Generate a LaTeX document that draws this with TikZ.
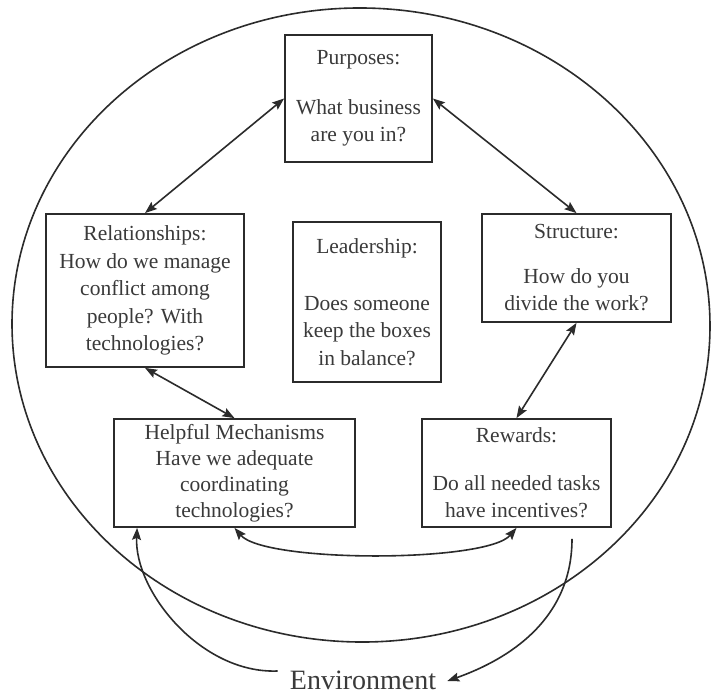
\documentclass[tikz,border=0pt]{standalone}
\usepackage{fontspec}
\setmainfont{Liberation Serif}
\usetikzlibrary{arrows.meta}
\definecolor{ink}{HTML}{2B2B2B}
\definecolor{txt}{HTML}{3A3A3A}
\begin{document}
\begin{tikzpicture}[x=1pt,y=-1pt,
  >={Stealth[length=12pt,width=9pt,inset=2pt]},
  box/.style={draw=ink, fill=white, line width=1.8pt, align=center, text=txt, inner sep=0pt,
              font=\fontsize{21.5}{27.5}\selectfont},
  link/.style={ink, line width=1.6pt}]
\useasboundingbox (0,0) rectangle (713,696);
\fill[white] (0,0) rectangle (713,696);

% outer ellipse
\draw[ink, line width=1.6pt, rotate around={-1:(361,325)}] (361,325) ellipse [x radius=349pt, y radius=317pt];

% boxes
\node[box, minimum width=147pt, minimum height=127pt] (P) at (358.5,98.5)
  {Purposes:\\[22pt]What business\\are you in?};
\node[box, minimum width=198pt, minimum height=153pt] (R) at (145,290.5)
  {Relationships:\\How do we manage\\conflict among\\people? With\\technologies?};
\node[box, minimum width=189pt, minimum height=108pt] (S) at (576.5,268)
  {Structure:\\[17pt]How do you\\divide the work?};
\node[box, minimum width=148pt, minimum height=160pt] (L) at (367,302)
  {Leadership:\\[29pt]Does someone\\keep the boxes\\in balance?};
\node[box, minimum width=241pt, minimum height=108pt, font=\fontsize{21.5}{26}\selectfont] (H) at (234.5,473)
  {Helpful Mechanisms\\Have we adequate\\coordinating\\technologies?};
\node[box, minimum width=189pt, minimum height=108pt] (W) at (516.5,473)
  {Rewards:\\[20pt]Do all needed tasks\\have incentives?};

\node[font=\fontsize{28}{34}\selectfont, text=txt, inner sep=0pt, anchor=base] (E) at (363,689) {Environment};

% connectors
\draw[link,<->] (R.north) -- (P.west);
\draw[link,<->] (P.east) -- (S.north);
\draw[link,<->] (S.south) -- (W.north);
\draw[link,<->] (R.south) -- (H.north);
\draw[link,<->] (H.south) .. controls +(30,35) and +(-30,35) .. (W.south);
\draw[link,->] ([xshift=-12pt,yshift=18pt]E.base west) .. controls +(-77,3) and +(-3,63) .. ([xshift=24pt]H.south west);
\draw[link,->] ([xshift=55.5pt,yshift=-11pt]W.south) .. controls +(0,87) and +(51,-18) .. ([xshift=11pt,yshift=8pt]E.base east);
\end{tikzpicture}
\end{document}
